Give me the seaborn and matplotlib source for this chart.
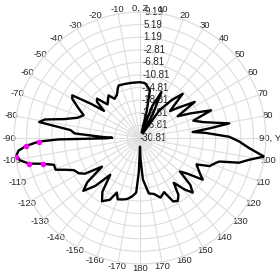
import numpy as np
import pandas as pd
import matplotlib
matplotlib.use("Agg")
import matplotlib.pyplot as plt
import seaborn as sns

# ---- data (angle in degrees, clockwise from top; gain in dB) ----
angles_deg = [-180, -178, -176, -172, -168, -164, -160, -157, -154, -149, -145, -141,
              -137, -133, -130, -127, -123, -120, -116, -113, -110.6, -107.3, -104.8,
              -103, -100.5, -98.5, -96, -94, -92, -91, -90.5, -89.5, -88.5, -86, -83.5,
              -81, -79, -76, -72, -68, -64, -60, -57.8, -55, -53, -50, -47.5, -44, -40,
              -36.4, -33, -30, -28.5, -24, -22, -15, -8, 0, 5, 9, 11.8, 14, 17, 21, 25,
              28, 31, 35, 40, 44, 48, 52, 56.6, 60, 64, 68.7, 72, 76, 80.7, 82, 83.5,
              85.5, 89.2, 92, 95.3, 98.5, 101.3, 104, 106.5, 108, 112, 115, 117.5, 121,
              123.6, 127, 130, 133, 136, 139, 143, 146, 149, 152.4, 156, 161, 166, 171,
              176, 178.5, 180]
gain_db = [-28, -20, -13.4, -12, -11, -10.5, -10.1, -12, -9, -7.4, -10, -15.8,
           -10, -6.2, -9, -15.7, -10, -8.4, -7.5, -5, -2.2, -2.2, 1.2,
           5.3, 8, 9.0, 8, 5.5, 1.3, -5, -20, -22, -19, -10, -8.6,
           1.6, 0, -6, -10, -11.5, -9, -6, -5.4, -12, -16.5, -13, -12.3, -16, -15,
           -14.0, -16, -15.5, -15.4, -13.5, -12.8, -13, -13.1, -13.1, -13.3, -14.5, -15.4, -22, -29, -20, -14.7,
           -22, -29, -20, -15, -11.3, -18, -15, -10.0, -17, -13, -6.6, -13, -10, -2.1, -8, -14,
           -10, -2.5, 0.7, 4.0, 9.0, 4.5, 1.6, -4.5, -5.4, -7, -11, -10.1, -8.5,
           -6.9, -12, -14.3, -9, -6.7, -9.1, -13, -9, -7.5, -8.1, -12, -10.8, -12.5, -13,
           -17.6, -24, -28]

marker_angles = [-92, -94, -98.5, -103, -104.8]
marker_db = [1.3, 5.5, 9.0, 5.3, 1.2]

r_ticks = [-30.81, -26.81, -22.81, -18.81, -14.81, -10.81, -6.81, -2.81, 1.19, 5.19, 9.19]
theta_ticks = list(range(0, 360, 10))
theta_labels = ["0, Z" if t == 0 else "90, Y" if t == 90 else str(t if t <= 180 else t - 360)
                for t in theta_ticks]

df = pd.DataFrame({"theta": np.deg2rad(angles_deg), "gain": gain_db})
dm = pd.DataFrame({"theta": np.deg2rad(marker_angles), "gain": marker_db})

sns.set_style("white")
plt.rcParams["font.family"] = ["Liberation Sans", "DejaVu Sans"]

fig = plt.figure(figsize=(2.8, 2.8), dpi=100)
ax = fig.add_axes([14 / 280, 16 / 280, 252 / 280, 252 / 280], projection="polar")
ax.set_theta_zero_location("N")
ax.set_theta_direction(-1)

sns.lineplot(data=df, x="theta", y="gain", ax=ax, sort=False, color="black",
             linewidth=1.7, zorder=4)
ax.scatter(dm["theta"], dm["gain"], s=9, color="magenta", zorder=5)

ax.set_ylim(r_ticks[0], r_ticks[-1])
ax.set_rgrids(r_ticks, [f"{v:.2f}" for v in r_ticks], angle=2, fontsize=7)
ax.set_thetagrids(theta_ticks, theta_labels, fontsize=6.8)
ax.tick_params(axis="x", pad=-7.5)
ax.grid(True, color="#dddddd", linewidth=0.8)
ax.spines["polar"].set_color("#dddddd")
ax.set_xlabel("")
ax.set_ylabel("")
for lab in ax.get_yticklabels():
    lab.set_horizontalalignment("left")
    lab.set_verticalalignment("center")

fig.savefig("out.png", dpi=100, facecolor="white")
